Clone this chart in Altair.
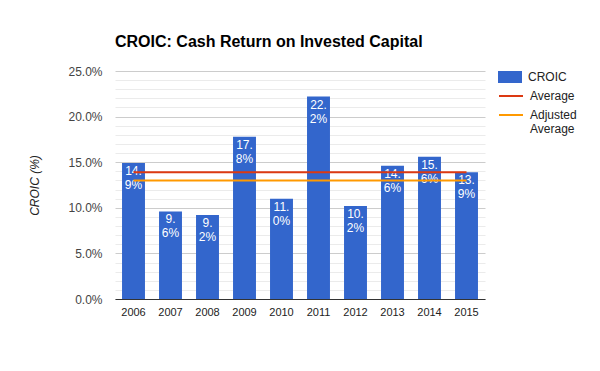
import altair as alt
import pandas as pd

years = ["2006", "2007", "2008", "2009", "2010", "2011", "2012", "2013", "2014", "2015"]
croic = [14.9, 9.6, 9.2, 17.8, 11.0, 22.2, 10.2, 14.6, 15.6, 13.9]
average = [13.9] * 10
adjusted = [13.0] * 10
y_ticks = list(range(0, 26))

FONT = "Liberation Sans"


def split_label(v):
    s = f"{v:.1f}%"
    a, b = s.split(".")
    return a + ".\n" + b


bars_df = pd.DataFrame({
    "year": years,
    "value": croic,
    "series": ["CROIC"] * len(years),
    "label": [split_label(v) for v in croic],
})

lines_df = pd.DataFrame({
    "year": years * 2,
    "value": average + adjusted,
    "series": ["Average"] * len(years) + ["Adjusted Average"] * len(years),
})

x_enc = alt.X(
    "year:N",
    title=None,
    sort=years,
    scale=alt.Scale(paddingInner=0.38, paddingOuter=0.19),
    axis=alt.Axis(
        labelAngle=0, ticks=False, labelPadding=7, labelFontSize=11,
        labelFont=FONT, labelColor="#222222", domainColor="#333333",
        domainWidth=1, grid=False,
    ),
)

y_enc = alt.Y(
    "value:Q",
    title="CROIC (%)",
    scale=alt.Scale(domain=[0, 25], nice=False, zero=True),
    axis=alt.Axis(
        values=y_ticks,
        labelExpr="datum.value % 5 === 0 ? format(datum.value, '.1f') + '%' : ''",
        labelOverlap=False,
        ticks=False, tickSize=0, domain=False, labelPadding=13,
        labelFontSize=12, labelFont=FONT, labelColor="#444444",
        gridColor={"condition": {"test": "datum.value % 5 === 0", "value": "#cccccc"}, "value": "#ebebeb"},
        titleFont=FONT, titleFontSize=12, titleFontStyle="italic", titleFontWeight="normal",
        titleColor="#222222", titleX=-81, titleY=114, titleAlign="center",
        titleBaseline="middle", titleAngle=-90,
    ),
)

bars = alt.Chart(bars_df).mark_bar().encode(
    x=x_enc,
    y=y_enc,
    fill=alt.Fill(
        "series:N",
        scale=alt.Scale(domain=["CROIC"], range=["#3366cc"]),
        legend=alt.Legend(
            title=None, orient="none", legendX=389, legendY=0, padding=0,
            symbolType="M-2,-1H2V1H-2Z", symbolSize=144, symbolStrokeWidth=0,
            labelFont=FONT, labelFontSize=12, labelColor="#222222", labelOffset=12,
        ),
    ),
)

texts = alt.Chart(bars_df).mark_text(
    baseline="top", dy=3, color="white", font=FONT, fontSize=12, lineBreak="\n", lineHeight=14,
).encode(
    x=x_enc,
    y=y_enc,
    text="label:N",
)

lines = alt.Chart(lines_df).mark_line(strokeWidth=2).encode(
    x=x_enc,
    y=y_enc,
    detail="series:N",
    stroke=alt.Stroke(
        "series:N",
        scale=alt.Scale(domain=["Average", "Adjusted Average"], range=["#dc3912", "#ff9900"]),
        legend=alt.Legend(
            title=None, orient="none", legendX=389, legendY=18, padding=0,
            symbolType="M-2,0H2", symbolSize=144, symbolStrokeWidth=2,
            rowPadding=6,
            labelExpr="datum.label == 'Adjusted Average' ? ['Adjusted', 'Average'] : datum.label",
            labelFont=FONT, labelFontSize=12, labelColor="#222222", labelOffset=12,
        ),
    ),
)

chart = alt.layer(bars, texts, lines).resolve_scale(fill="independent", stroke="independent").properties(
    width=370,
    height=228,
    autosize=alt.AutoSizeParams(type="none"),
    padding={"left": 107, "top": 63, "right": 107, "bottom": 64},
    title=alt.TitleParams(
        "CROIC: Cash Return on Invested Capital",
        anchor="start", frame="group", font=FONT, fontSize=16, fontWeight="bold",
        color="#000000", offset=15,
    ),
).configure_view(stroke=None)

chart.save("out.html", embed_options={"renderer": "svg", "actions": False})
